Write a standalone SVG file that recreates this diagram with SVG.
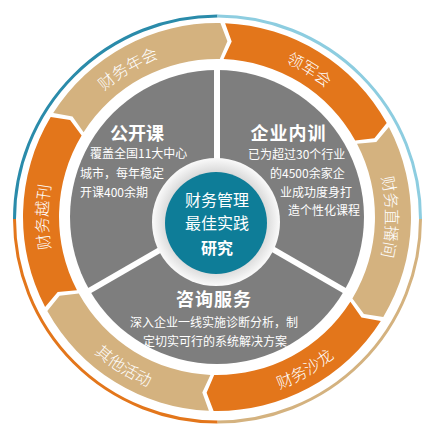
<svg xmlns="http://www.w3.org/2000/svg" width="430" height="430" viewBox="0 0 430 430">
<style>
.org{fill:#E3761B}
.tan{fill:#D4B27F}
.sec{fill:#7E7E7E}
.ring{fill:none;stroke-width:3}
.lbl{font-family:"Noto Sans CJK SC","Liberation Sans",sans-serif;font-size:16px;font-weight:300;fill:#ffffff}
.ttl{font-family:"Noto Sans CJK SC","Liberation Sans",sans-serif;font-size:18px;font-weight:bold;fill:#ffffff;text-anchor:middle}
.body{font-family:"Noto Sans CJK SC","Liberation Sans",sans-serif;font-size:12px;fill:#ffffff}
.ctr{font-family:"Noto Sans CJK SC","Liberation Sans",sans-serif;font-size:16px;fill:#ffffff;text-anchor:middle}
.div{stroke:#ffffff;stroke-width:6;stroke-linecap:butt}
</style>
<defs>
<radialGradient id="rg" cx="50%" cy="50%" r="50%">
<stop offset="78%" stop-color="#d9d9d9"/>
<stop offset="100%" stop-color="#fafafa"/>
</radialGradient>
<path id="p1" d="M69.2,135.1 A169,169 0 0 1 214.1,48.0"/>
<path id="p2" d="M222.9,48.1 A169,169 0 0 1 366.2,137.7"/>
<path id="p3" d="M363.4,132.5 A169,169 0 0 1 363.4,301.5"/>
<path id="p4" d="M217,400 A183,183 0 0 0 375.5,308.5"/>
<path id="p5" d="M55.4,302.9 A183,183 0 0 0 210.6,399.9"/>
<path id="p6" d="M70.6,301.5 A169,169 0 0 1 70.6,132.5"/>
</defs>
<rect width="430" height="430" fill="#ffffff"/>
<g id="outer-ring">
<path class="ring" stroke="#2A8BAA" d="M14.5,219 A203,203 0 0 1 217.5,16"/>
<path class="ring" stroke="#8DCDE0" d="M217.5,16 A203,203 0 0 1 420.5,219"/>
<path class="ring" stroke="#D4B27F" d="M420.5,219 A203,203 0 0 1 217.5,422"/>
<path class="ring" stroke="#E3761B" d="M217.5,422 A203,203 0 0 1 14.5,219"/>
</g>
<g id="seg-nianhui">
<path class="tan" d="M53.2,113.1 A194,194 0 0 1 220.4,23.0 L227.4,41.3 L219.8,59.0 A158,158 0 0 0 83.6,132.3 L72.5,116.6 Z"/>
<text class="lbl"><textPath href="#p1" startOffset="50%" text-anchor="middle">财务年会</textPath></text>
</g>
<g id="seg-lingjunhui">
<path class="org" d="M225.1,23.2 A194,194 0 0 1 386.7,123.0 L374.4,138.2 L355.2,140.4 A158,158 0 0 0 223.6,59.1 L231.7,41.6 Z"/>
<text class="lbl"><textPath href="#p2" startOffset="50%" text-anchor="middle">领军会</textPath></text>
</g>
<g id="seg-zhibojian">
<path class="tan" d="M388.9,127.1 A194,194 0 0 1 383.3,316.9 L363.9,313.9 L352.4,298.4 A158,158 0 0 0 357.0,143.8 L376.3,142.1 Z"/>
<text class="lbl"><textPath href="#p3" startOffset="50%" text-anchor="middle">财务直播间</textPath></text>
</g>
<g id="seg-shalong">
<path class="org" d="M380.8,321.0 A194,194 0 0 1 213.6,411.0 L206.6,392.7 L214.2,375.0 A158,158 0 0 0 350.4,301.7 L361.5,317.4 Z"/>
<text class="lbl"><textPath href="#p4" startOffset="50%" text-anchor="middle">财务沙龙</textPath></text>
</g>
<g id="seg-qita">
<path class="tan" d="M208.9,410.8 A194,194 0 0 1 47.3,311.1 L59.6,295.8 L78.8,293.6 A158,158 0 0 0 210.4,374.9 L202.3,392.4 Z"/>
<text class="lbl"><textPath href="#p5" startOffset="50%" text-anchor="middle">其他活动</textPath></text>
</g>
<g id="seg-yuekan">
<path class="org" d="M45.1,306.9 A194,194 0 0 1 50.7,117.1 L70.1,120.1 L81.6,135.6 A158,158 0 0 0 77.0,290.2 L57.7,291.9 Z"/>
<text class="lbl"><textPath href="#p6" startOffset="50%" text-anchor="middle">财务越刊</textPath></text>
</g>
<g id="sec-gongkaike">
<path class="sec" d="M217,217 L89.7,290.5 A147,147 0 0 1 217,70 Z"/>
<text class="ttl" x="137" y="140">公开课</text>
<text class="body" x="90" y="158">覆盖全国11大中心</text>
<text class="body" x="80" y="178">城市，每年稳定</text>
<text class="body" x="80" y="197">开课400余期</text>
</g>
<g id="sec-neixun">
<path class="sec" d="M217,217 L217,70 A147,147 0 0 1 344.3,290.5 Z"/>
<text class="ttl" x="288.5" y="140" letter-spacing="1">企业内训</text>
<text class="body" x="248" y="159">已为超过30个行业</text>
<text class="body" x="270" y="178">的4500余家企</text>
<text class="body" x="280" y="197">业成功度身打</text>
<text class="body" x="288" y="215">造个性化课程</text>
</g>
<g id="sec-zixun">
<path class="sec" d="M217,217 L344.3,290.5 A147,147 0 0 1 89.7,290.5 Z"/>
<text class="ttl" x="214" y="306" letter-spacing="1">咨询服务</text>
<text class="body" x="130" y="327">深入企业一线实施诊断分析，制</text>
<text class="body" x="143" y="346">定切实可行的系统解决方案</text>
</g>
<g id="connectors">
<line class="div" x1="217" y1="217" x2="217" y2="66"/>
<line class="div" x1="217" y1="217" x2="347.8" y2="292.5"/>
<line class="div" x1="217" y1="217" x2="86.2" y2="292.5"/>
</g>
<g id="center">
<circle cx="216" cy="222" r="64" fill="url(#rg)"/>
<circle cx="216" cy="223" r="51" fill="#0E7D98"/>
<text class="ctr" x="217" y="206">财务管理</text>
<text class="ctr" x="217" y="229">最佳实践</text>
<text class="ctr" x="217" y="253.5" font-weight="bold" font-size="17">研究</text>
</g>
</svg>
